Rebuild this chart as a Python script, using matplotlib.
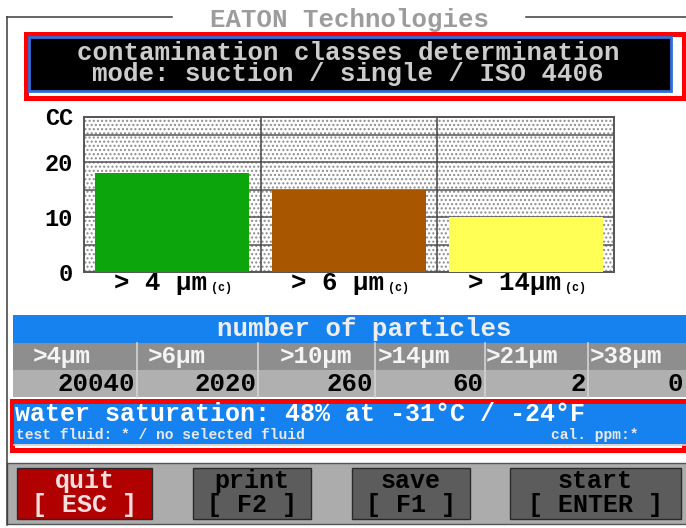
import matplotlib.pyplot as plt
from matplotlib.patches import Rectangle
from matplotlib.textpath import TextToPath
from matplotlib.font_manager import FontProperties

plt.rcParams['font.family'] = ['Liberation Mono', 'DejaVu Sans Mono']
plt.rcParams['font.weight'] = 'bold'

# screen texts
header = 'EATON Technologies'
title_lines = ['contamination classes determination',
               'mode: suction / single / ISO 4406']

# contamination classes (bar chart)
classes = ['> 4 µm', '> 6 µm', '> 14µm']
cc_values = [18, 15, 10]
bar_colors = ['#0ca60c', '#a85600', '#ffff55']
cc_ticks = [0, 10, 20]

# particle counts table
sizes = ['>4µm', '>6µm', '>10µm', '>14µm', '>21µm', '>38µm']
counts = [20040, 2020, 260, 60, 2, 0]

# water saturation
saturation = 48
temp_c = -31
temp_f = -24
fluid = '*'
cal_ppm = '*'

buttons = [('quit', 'ESC'), ('print', 'F2'), ('save', 'F1'), ('start', 'ENTER')]

# layout (pixels)
col_edges = [13, 137, 258, 375, 485, 588, 685]
label_x = [33, 148, 280, 378, 486, 590]
button_x = [(17, 152), (193, 311), (352, 470), (510, 681)]
BLUE = '#1582f0'
BIG = 18.5


def spacing(size, gap_px):
    # linespacing giving gap_px between baselines of a two-line text
    prop = FontProperties(family=['Liberation Mono'], weight='bold', size=size)
    w, h, d = TextToPath().get_text_width_height_descent('lp', prop, ismath=False)
    return (gap_px * 0.72 - d) / (h - d)


fig = plt.figure(figsize=(6.86, 5.28), dpi=100)
bg = fig.add_axes([0, 0, 1, 1], zorder=0)
bg.set_xlim(0, 686)
bg.set_ylim(528, 0)
bg.axis('off')

# outer frame with header
bg.plot([7, 172], [17, 17], color='#3c3c3c', lw=1.1)
bg.plot([526, 686], [17, 17], color='#3c3c3c', lw=1.1)
bg.plot([7, 7], [17, 525], color='#3c3c3c', lw=1.1)
bg.text(349, 27, header, ha='center', va='baseline', fontsize=BIG, color='#9c9c9c')

# title box
bg.add_patch(Rectangle((25.5, 33.5), 658, 64, fill=False, edgecolor='#ff0000', lw=3.6))
bg.add_patch(Rectangle((29, 37), 642, 54, facecolor='#000000', edgecolor='#2f6fd8', lw=2))
bg.text(348, 81, '\n'.join(title_lines), ha='center', va='baseline', multialignment='center',
        fontsize=BIG, color='#cccccc', linespacing=spacing(BIG, 21))

# chart
ax = fig.add_axes([84 / 686, (528 - 272) / 528, 530 / 686, 155 / 528], zorder=1)
ax.set_xlim(-0.5, 2.5)
ax.set_ylim(0, 28.2)
ax.add_patch(Rectangle((0, 0), 1, 1, transform=ax.transAxes, facecolor='white',
                       edgecolor='#8c8c8c', lw=0, hatch='....', zorder=0))
for y in range(5, 28, 5):
    ax.axhline(y, color='#555555', lw=1.1, zorder=1)
for x in [0.5, 1.5]:
    ax.axvline(x, color='#444444', lw=1.1, zorder=1)
ax.bar(range(len(classes)), cc_values, width=0.87, color=bar_colors, zorder=3)
for s in ax.spines.values():
    s.set_color('#555555')
    s.set_linewidth(1.4)
ax.set_xticks([])
ax.set_yticks(cc_ticks)
ax.set_yticklabels([str(t) for t in cc_ticks], fontsize=17, color='black')
ax.tick_params(length=0, pad=8)
ax.annotate('CC', xy=(0, 1), xycoords='axes fraction', xytext=(-11, -8),
            textcoords='offset pixels', ha='right', va='baseline', fontsize=17)
for i, label in enumerate(classes):
    ax.annotate(label, xy=(i, 0), xytext=(-58, -18), textcoords='offset pixels',
                ha='left', va='baseline', fontsize=BIG, annotation_clip=False)
    ax.annotate('(c)', xy=(i, 0), xytext=(-58 + 97, -19), textcoords='offset pixels',
                ha='left', va='baseline', fontsize=8.5, annotation_clip=False)

# particles table
bg.add_patch(Rectangle((13, 315), 680, 28, facecolor=BLUE, lw=0))
bg.text(364, 336, 'number of particles', ha='center', va='baseline', fontsize=BIG,
        color='#eeeeee')
bg.add_patch(Rectangle((13, 343), 680, 27, facecolor='#8e8e8e', lw=0))
bg.add_patch(Rectangle((13, 370), 680, 27, facecolor='#b0b0b0', lw=0))
for x in col_edges[1:-1]:
    bg.plot([x, x], [343, 397], color='#d4d4d4', lw=1.2)
for i, (s, n) in enumerate(zip(sizes, counts)):
    bg.text(label_x[i], 363, s, ha='left', va='baseline', fontsize=17.5, color='#f4f4f4')
    bg.text(col_edges[i + 1] - 2, 391, str(n), ha='right', va='baseline', fontsize=BIG,
            color='black')

# water saturation panel
bg.add_patch(Rectangle((11.5, 400.5), 672, 49, fill=False, edgecolor='#ff0000', lw=3.6))
bg.add_patch(Rectangle((14, 404), 672, 40, facecolor=BLUE, lw=0))
bg.plot([14, 686], [445, 445], color='#d0d0d0', lw=1.2)
bg.text(15, 421, f'water saturation: {saturation}% at {temp_c}°C / {temp_f}°F',
        ha='left', va='baseline', fontsize=18, color='white')
bg.text(16, 439, f'test fluid: {fluid} / no selected fluid', ha='left', va='baseline',
        fontsize=10.5, color='#e8e8e8')
bg.text(551, 439, f'cal. ppm:{cal_ppm}', ha='left', va='baseline', fontsize=10.5,
        color='#e8e8e8')

# button bar
bg.add_patch(Rectangle((7, 463), 686, 61, facecolor='#acacac', edgecolor='#555555', lw=1))
for (name, key), (x0, x1) in zip(buttons, button_x):
    face = '#b00000' if name == 'quit' else '#5c5c5c'
    txt = '#f6dede' if name == 'quit' else 'black'
    bg.add_patch(Rectangle((x0, 468), x1 - x0, 51, facecolor=face, edgecolor='#2a2a2a', lw=1))
    bg.text((x0 + x1) / 2, 512, f'{name}\n[ {key} ]', ha='center', va='baseline',
            multialignment='center', fontsize=18, color=txt, linespacing=spacing(18, 23))

fig.savefig('out.png', dpi=100)
